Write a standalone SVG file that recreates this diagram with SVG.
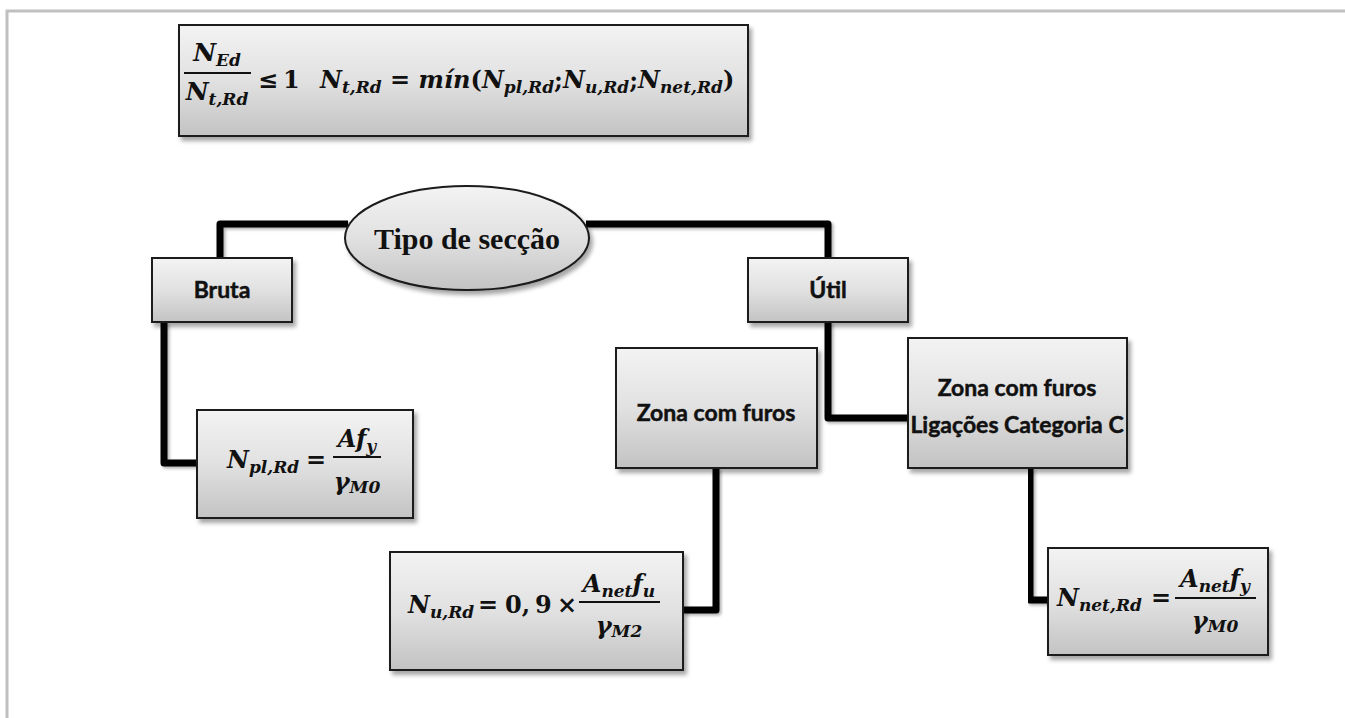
<svg xmlns="http://www.w3.org/2000/svg" width="1345" height="718" viewBox="0 0 1345 718">
<defs>
<linearGradient id="g" x1="0" y1="0" x2="0" y2="1">
<stop offset="0" stop-color="#f3f3f3"/>
<stop offset="0.5" stop-color="#e1e1e1"/>
<stop offset="1" stop-color="#c3c3c3"/>
</linearGradient>
<filter id="sh" x="-10%" y="-10%" width="130%" height="140%">
<feDropShadow dx="3" dy="4" stdDeviation="2" flood-color="#000" flood-opacity="0.35"/>
</filter>
<filter id="lsh" x="-10%" y="-10%" width="130%" height="130%">
<feDropShadow dx="2" dy="2" stdDeviation="1.5" flood-color="#000" flood-opacity="0.3"/>
</filter>
</defs>
<style>
.box{fill:url(#g);stroke:#1a1a1a;stroke-width:2;filter:url(#sh)}
.conn{fill:none;stroke:#000;stroke-width:7;stroke-linejoin:round;stroke-linecap:butt;filter:url(#lsh)}
.lbl{font-family:Lato,"Open Sans",sans-serif;font-weight:bold;font-size:23px;fill:#111;stroke:#111;stroke-width:0.5;text-anchor:middle}
.m{font-family:"DejaVu Serif","Liberation Serif",serif;font-weight:bold;font-style:italic;fill:#111}
.u{font-style:normal}
.bar{stroke:#111;stroke-width:2}
</style>
<path d="M7 718 V11 H1345" fill="none" stroke="#c0c0c0" stroke-width="3"/>
<g id="connectors">
<path class="conn" d="M465 136 V192"/>
<path class="conn" d="M348 224 H220 V258"/>
<path class="conn" d="M586 224 H828 V258"/>
<path class="conn" d="M164 322 V463 H197"/>
<path class="conn" d="M828 322 V418 H908"/>
<path class="conn" d="M817 418 H828"/>
<path class="conn" d="M716 468 V610 H683"/>
<path class="conn" d="M1030 468 V600 H1048"/>
</g>
<g id="top">
<rect class="box" x="179" y="25" width="569" height="111"/>
<text class="m" x="217" y="61" text-anchor="middle" font-size="25">N<tspan font-size="17" dy="5">Ed</tspan></text>
<line class="bar" x1="184" y1="73" x2="251" y2="73"/>
<text class="m" x="217" y="100" text-anchor="middle" font-size="25">N<tspan font-size="17" dy="5">t,Rd</tspan></text>
<text class="m u" x="258" y="88" font-size="24">≤</text>
<text class="m u" x="283" y="88" font-size="24">1</text>
<text class="m" x="320" y="88" font-size="24">N<tspan font-size="17" dy="5">t,Rd</tspan><tspan class="u" dy="-5"> = </tspan>mín<tspan class="u">(</tspan>N<tspan font-size="17" dy="5">pl,Rd</tspan><tspan class="u" dy="-5">;</tspan>N<tspan font-size="17" dy="5">u,Rd</tspan><tspan class="u" dy="-5">;</tspan>N<tspan font-size="17" dy="5">net,Rd</tspan><tspan class="u" dy="-5">)</tspan></text>
</g>
<g id="tipo">
<ellipse class="box" cx="467" cy="238" rx="122" ry="52" stroke-width="1.5"/>
<text x="467" y="249" text-anchor="middle" font-family="'Liberation Serif','DejaVu Serif',serif" font-weight="bold" font-size="30" fill="#111">Tipo de secção</text>
</g>
<g id="bruta">
<rect class="box" x="152" y="258" width="140" height="64"/>
<text class="lbl" x="222" y="298">Bruta</text>
</g>
<g id="util">
<rect class="box" x="748" y="258" width="160" height="64"/>
<text class="lbl" x="828" y="298">Útil</text>
</g>
<g id="npl">
<rect class="box" x="197" y="410" width="216" height="108"/>
<text class="m" x="227" y="468" font-size="24">N<tspan font-size="17" dy="5">pl,Rd</tspan></text>
<text class="m u" x="306" y="468" font-size="24">=</text>
<text class="m" x="357" y="447" text-anchor="middle" font-size="24">Af<tspan font-size="17" dy="5">y</tspan></text>
<line class="bar" x1="333" y1="457" x2="381" y2="457"/>
<text class="m" x="357" y="490" text-anchor="middle" font-size="24">γ<tspan font-size="17" dy="3">M0</tspan></text>
</g>
<g id="zona">
<rect class="box" x="616" y="348" width="201" height="120"/>
<text class="lbl" x="716" y="421">Zona com furos</text>
</g>
<g id="zonac">
<rect class="box" x="908" y="338" width="219" height="130"/>
<text class="lbl" x="1017" y="396">Zona com furos</text>
<text class="lbl" x="1017" y="433" font-size="22.5">Ligações Categoria C</text>
</g>
<g id="nu">
<rect class="box" x="390" y="552" width="293" height="118"/>
<text class="m" x="408" y="613" font-size="24">N<tspan font-size="17" dy="5">u,Rd</tspan></text>
<text class="m u" x="478" y="613" font-size="24">=</text>
<text class="m u" x="505" y="613" font-size="24">0,</text>
<text class="m u" x="535" y="613" font-size="24">9</text>
<text class="m u" x="557" y="613" font-size="24">×</text>
<text class="m" x="619" y="592" text-anchor="middle" font-size="24">A<tspan font-size="17" dy="5">net</tspan><tspan dy="-5">f</tspan><tspan font-size="17" dy="5">u</tspan></text>
<line class="bar" x1="579" y1="602" x2="660" y2="602"/>
<text class="m" x="619" y="634" text-anchor="middle" font-size="24">γ<tspan font-size="17" dy="3">M2</tspan></text>
</g>
<g id="nnet">
<rect class="box" x="1048" y="548" width="220" height="107"/>
<text class="m" x="1057" y="606" font-size="24">N<tspan font-size="17" dy="5">net,Rd</tspan></text>
<text class="m u" x="1151" y="606" font-size="24">=</text>
<text class="m" x="1215" y="587" text-anchor="middle" font-size="24">A<tspan font-size="17" dy="5">net</tspan><tspan dy="-5">f</tspan><tspan font-size="17" dy="5">y</tspan></text>
<line class="bar" x1="1175" y1="598" x2="1256" y2="598"/>
<text class="m" x="1215" y="629" text-anchor="middle" font-size="24">γ<tspan font-size="17" dy="3">M0</tspan></text>
</g>
</svg>
